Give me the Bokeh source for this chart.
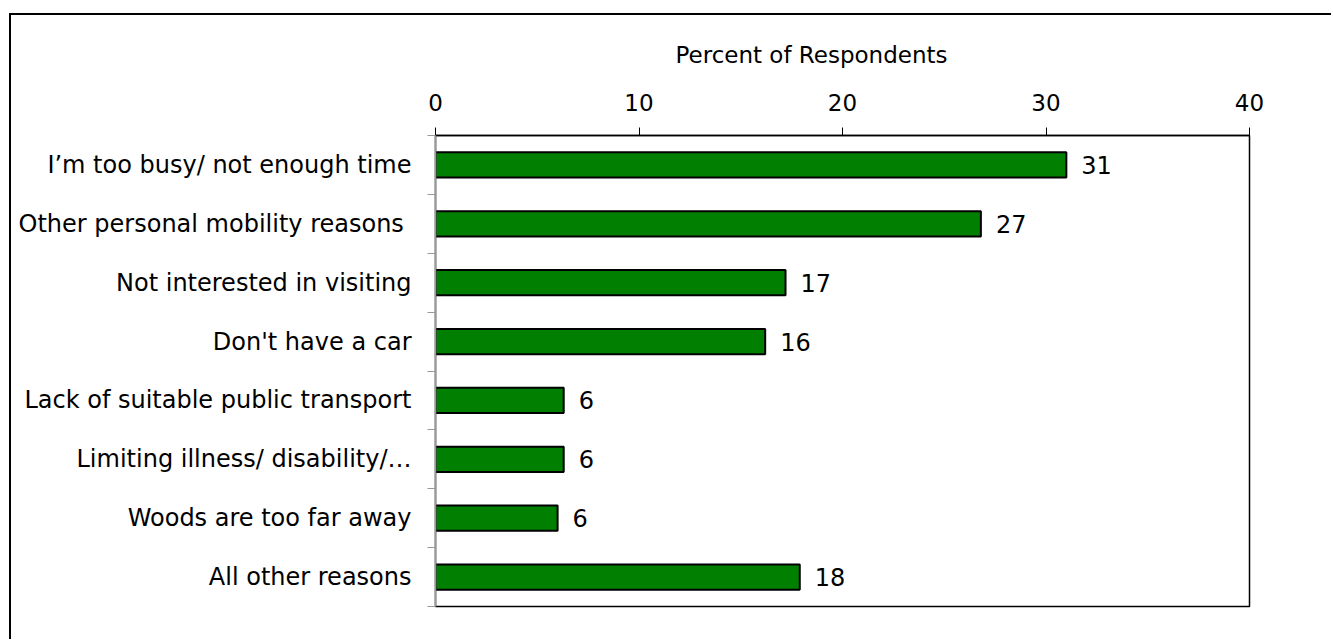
from bokeh.plotting import figure
from bokeh.models import ColumnDataSource, FixedTicker, Range1d, Title
from bokeh.embed import file_html
from bokeh.resources import INLINE

categories = [
    "I\u2019m too busy/ not enough time",
    "Other personal mobility reasons ",
    "Not interested in visiting",
    "Don't have a car",
    "Lack of suitable public transport",
    "Limiting illness/ disability/\u2026",
    "Woods are too far away",
    "All other reasons",
]
values = [31.0, 26.8, 17.2, 16.2, 6.3, 6.3, 6.0, 17.9]
x_ticks = [0, 10, 20, 30, 40]
axis_title = "Percent of Respondents"

FONT = "DejaVu Sans"
n = len(categories)
ypos = [i + 0.5 for i in range(n)]
labels = [str(int(round(v))) for v in values]

src = ColumnDataSource(dict(cat=categories, y=ypos, v=values, lab=labels))

p = figure(
    width=1322, height=626,
    x_range=Range1d(0, 40), y_range=Range1d(n, 0),
    output_backend="svg", toolbar_location=None,
    x_axis_location="above",
    min_border_left=424, min_border_right=84,
    min_border_top=120, min_border_bottom=35,
    margin=(13, 0, 0, 9),
)
p.styles = {"border-left": "2px solid black", "border-top": "2px solid black"}

p.add_layout(Title(text=axis_title, align="left", offset=240,
                   text_font=FONT, text_font_size="23px",
                   text_font_style="normal", text_color="black",
                   standoff=41, vertical_align="top"), "above")

p.hbar(y="y", right="v", left=0, height=0.43, source=src,
       fill_color="#007F00", line_color="black", line_width=2)

p.text(x="v", y="y", text="lab", source=src, x_offset=15,
       text_align="left", text_baseline="middle",
       text_font_size="24px", text_color="black",
       text_font={"value": FONT})

p.grid.visible = False
p.outline_line_color = "black"
p.outline_line_width = 1.5

xa = p.xaxis[0]
xa.ticker = FixedTicker(ticks=x_ticks)
xa.major_label_text_font = FONT
xa.major_label_text_font_size = "23px"
xa.major_label_text_color = "black"
xa.major_label_standoff = 17
xa.major_tick_out = 8
xa.major_tick_in = 0
xa.minor_tick_out = 0
xa.minor_tick_in = 0
xa.axis_line_color = "black"
xa.axis_line_width = 1.5
xa.major_tick_line_color = "black"

ya = p.yaxis[0]
ya.ticker = FixedTicker(ticks=ypos, minor_ticks=list(range(n + 1)))
ya.major_label_overrides = {y: c for y, c in zip(ypos, categories)}
ya.major_label_text_font = FONT
ya.major_label_text_font_size = "24px"
ya.major_label_text_color = "black"
ya.major_label_standoff = 16
ya.major_tick_out = 0
ya.major_tick_in = 0
ya.minor_tick_out = 8
ya.minor_tick_in = 0
ya.minor_tick_line_color = "#999999"
ya.axis_line_color = "#999999"
ya.axis_line_width = 1.5

open("out.html", "w").write(file_html(p, INLINE))
